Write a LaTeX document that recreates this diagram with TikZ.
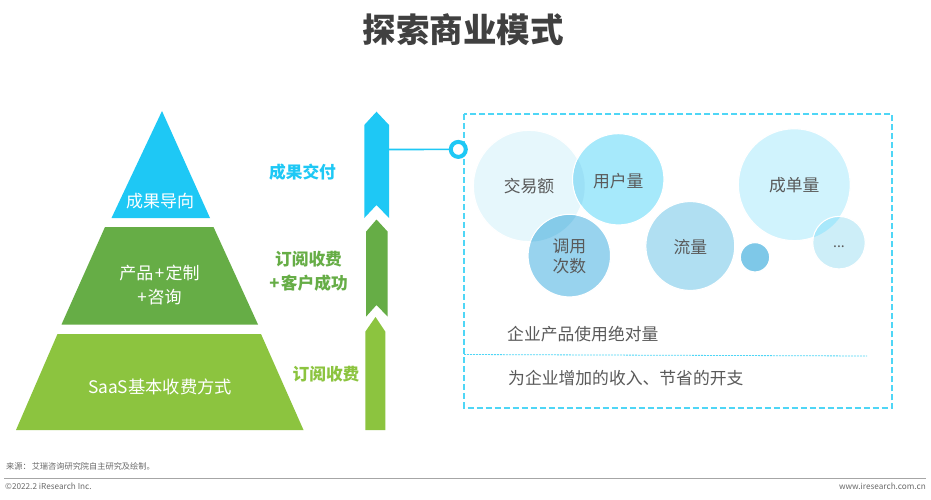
\documentclass[tikz,border=0pt]{standalone}
\usepackage{fontspec}
\setmainfont{Noto Sans CJK SC}
\definecolor{cblue}{HTML}{1EC8F5}
\definecolor{cgreen}{HTML}{66AD46}
\definecolor{clight}{HTML}{8CC43F}
\definecolor{cdash}{HTML}{4FD6F6}
\definecolor{ctext}{HTML}{595959}
\definecolor{ctitle}{HTML}{404040}
\definecolor{bA}{HTML}{E6F7FC}
\definecolor{bB}{HTML}{A6E9FB}
\definecolor{bC}{HTML}{98D3EE}
\definecolor{bD}{HTML}{B0DFF2}
\definecolor{bE}{HTML}{7EC8E8}
\definecolor{bF}{HTML}{D0F3FD}
\definecolor{bG}{HTML}{CDEEF8}
\definecolor{ovAB}{HTML}{9CE0F6}
\definecolor{ovAC}{HTML}{85CBE9}
\definecolor{ovFG}{HTML}{A8E8FB}
\tikzset{
  bubble/.style={circle,inner sep=0pt,draw=white,line width=1.2pt,text=ctext,align=center,font=\fontsize{16.8}{20}\selectfont},
  bubbletext/.style={inner sep=0pt,text=ctext,align=center,font=\fontsize{16.8}{20}\selectfont},
  pyrlabel/.style={text=white,inner sep=0pt,align=center,font=\fontsize{17}{24}\selectfont},
  sidelabel/.style={inner sep=0pt,align=center,font=\fontsize{16.7}{24}\selectfont\bfseries},
  bodytext/.style={anchor=west,inner sep=0pt,text=ctext,font=\fontsize{16.8}{20}\selectfont},
  foot/.style={inner sep=0pt,text=ctext!90,font=\fontsize{8.2}{10}\selectfont},
}
\begin{document}
\begin{tikzpicture}[x=1pt,y=-1pt]
\useasboundingbox (0,0) rectangle (931,500);
\fill[white] (0,0) rectangle (931,500);
% title
\node[inner sep=0pt,text=ctitle,font=\fontsize{33.5}{38}\selectfont\bfseries] (title) at (463,30) {探索商业模式};
% pyramid
\fill[cblue] (162,111) -- (210,218) -- (111.5,218) -- cycle;
\fill[cgreen] (105,227) -- (213.5,227) -- (258,324.5) -- (61.5,324.5) -- cycle;
\fill[clight] (57.5,334) -- (261,334) -- (303.5,430) -- (16,430) -- cycle;
\node[pyrlabel] (p1) at (160,201) {成果导向};
\node[pyrlabel] (p2) at (159.5,285) {产品\kern1.5pt+\kern1.5pt定制\\+\kern1pt咨询};
\node[pyrlabel,font=\fontsize{17.3}{24}\selectfont] (p3) at (160,387) {SaaS基本收费方式};
% side labels
\node[sidelabel,text=cblue] (s1) at (302.5,172) {成果交付};
\node[sidelabel,text=cgreen] (s2) at (308.5,271) {订阅收费\\+\kern1.5pt客户成功};
\node[sidelabel,text=clight] (s3) at (326,374) {订阅收费};
% arrows
\fill[cblue] (376.5,111.7) -- (389,125) -- (389,218) -- (376.5,205) -- (364.3,218) -- (364.3,125) -- cycle;
\fill[cgreen] (376.5,219.5) -- (387.7,231.7) -- (387.7,316.7) -- (376.5,305) -- (366,316.7) -- (366,231.7) -- cycle;
\fill[clight] (375.5,317) -- (385.3,331.7) -- (385.3,430) -- (365.3,430) -- (365.3,331.7) -- cycle;
% dashed box
\draw[cdash,line width=1.8pt,dash pattern=on 6pt off 3pt] (464,114.3) rectangle (892.3,407.7);
\draw[cdash,line width=0.8pt,dash pattern=on 2pt off 1pt] (464,354.5) -- (867,356);
% connector
\coordinate (armblue) at (389,149.5);
\node[circle,draw=cblue,fill=white,line width=4pt,minimum size=15pt,inner sep=0pt] (ring) at (458.3,149.4) {};
\draw[cblue,line width=1.6pt] (armblue) -- (ring);
% bubbles
\node[bubble,fill=bA,minimum size=111.4pt] (b1) at (529,186) {};
\node[bubbletext] (l1) at (529,186.5) {交易额};
\node[bubble,fill=bB,minimum size=91.4pt] (b2) at (618.3,179.3) {};
\node[bubbletext] (l2) at (618.3,181) {用户量};
\begin{scope}
\clip (529,186) circle[radius=55.7];
\fill[ovAB] (618.3,179.3) circle[radius=45];
\end{scope}
\node[bubble,fill=bC,minimum size=82.6pt] (b3) at (569.3,255.7) {};
\begin{scope}
\clip (529,186) circle[radius=55.7];
\fill[ovAC] (569.3,255.7) circle[radius=40.6];
\end{scope}
\node[bubbletext] (l3) at (569.3,256.5) {调用\\次数};
\node[bubble,fill=bD,minimum size=89pt] (b4) at (690.3,246) {};
\node[bubbletext] (l4) at (690.3,246.8) {流量};
\node[bubble,fill=bE,minimum size=29.4pt] (b5) at (755,257.3) {};
\node[bubble,fill=bF,minimum size=112pt] (b6) at (794.3,184.7) {};
\node[bubbletext] (l6) at (794.3,185) {成单量};
\node[bubble,fill=bG,minimum size=52.6pt] (b7) at (839,242.7) {};
\begin{scope}
\clip (794.3,184.7) circle[radius=56];
\fill[ovFG] (839,242.7) circle[radius=25.6];
\end{scope}
\node[bubbletext,font=\fontsize{14}{14}\selectfont] (l7) at (839,246.5) {...};
% body text
\node[bodytext] (t1) at (507,334) {企业产品使用绝对量};
\node[bodytext] (t2) at (508,378) {为企业增加的收入、节省的开支};
% footer
\node[foot,anchor=west] (f1) at (6,466) {来源\char"FF1A\kern1pt 艾瑞咨询研究院自主研究及绘制。};
\draw[black!35,line width=0.8pt] (4,478) -- (926,478);
\node[foot,anchor=west] (f2) at (5,486) {©2022.2 iResearch Inc.};
\node[foot,anchor=east] (f3) at (926,486) {www.iresearch.com.cn};
\end{tikzpicture}
\end{document}
